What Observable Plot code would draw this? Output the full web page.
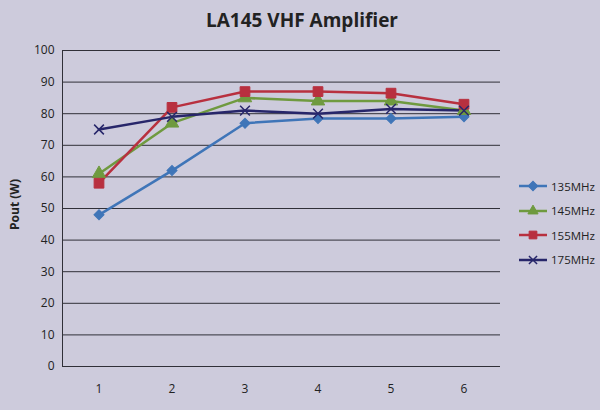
<!DOCTYPE html>
<html><head><meta charset="utf-8">
<script src="https://cdn.jsdelivr.net/npm/d3@7"></script>
<script src="https://cdn.jsdelivr.net/npm/@observablehq/plot@0.6"></script>
<style>
html,body{margin:0;padding:0;}
body{width:600px;height:410px;background:#cdcbdc;font-family:"Open Sans",sans-serif;color:#222;position:relative;overflow:hidden;}
#title{height:38px;line-height:40px;text-align:center;font-weight:bold;font-size:19px;padding-left:4px;}
#legend{position:absolute;left:518px;top:174px;font-size:11.5px;}
.row{height:24.5px;display:flex;align-items:center;}
.row svg{margin-right:3px;}
</style></head><body>
<div id="title">LA145 VHF Amplifier</div>
<div id="chart"></div>
<div id="legend"></div>
<script>
const steps = [1, 2, 3, 4, 5, 6];
const seriesNames = ["135MHz", "145MHz", "155MHz", "175MHz"];
const s135 = [48, 62, 77, 78.5, 78.5, 79];
const s145 = [61, 77, 85, 84, 84, 81];
const s155 = [58, 82, 87, 87, 86.5, 83];
const s175 = [75, 79, 81, 80, 81.5, 81];
const yTicks = [0, 10, 20, 30, 40, 50, 60, 70, 80, 90, 100];
const colors = ["#3f75b8", "#6f9a3f", "#b8303f", "#27266a"];
const symbols = ["square", "triangle", "square", "times"];
const rotations = [45, 0, 0, 0];
const sizes = [4, 5, 5.5, 4.5];

const allSeries = [s135, s145, s155, s175];
const data = [];
allSeries.forEach((vals, i) => vals.forEach((v, j) => data.push({series: seriesNames[i], x: steps[j], y: v})));

const plot = Plot.plot({
  width: 600,
  height: 372,
  marginLeft: 62,
  marginRight: 100,
  marginTop: 12,
  marginBottom: 44,
  style: {background: "transparent", fontFamily: "Open Sans, sans-serif", fontSize: "12px", color: "#222"},
  x: {domain: [0.5, 6.5], label: null},
  y: {domain: [0, 100], label: null},
  color: {domain: seriesNames, range: colors},
  marks: [
    Plot.gridY(yTicks, {stroke: "#303038", strokeOpacity: 1, strokeWidth: 1}),
    Plot.ruleX([0.5], {stroke: "#303038", strokeOpacity: 1}),
    Plot.axisX(steps, {tickFormat: d => String(d), tickSize: 0, tickPadding: 18, label: null}),
    Plot.axisY(yTicks, {tickSize: 0, tickPadding: 8, label: null}),
    Plot.line(data, {x: "x", y: "y", z: "series", stroke: "series", strokeWidth: 2.5}),
    ...seriesNames.map((name, i) => Plot.dot(data.filter(d => d.series === name), {
      x: "x", y: "y", symbol: symbols[i], rotate: rotations[i], fill: colors[i], stroke: colors[i], strokeWidth: i === 3 ? 1.5 : 1, r: sizes[i]
    }))
  ]
});
document.getElementById("chart").appendChild(plot);

// y-axis title
const yl = document.createElement("div");
yl.textContent = "Pout (W)";
yl.style.cssText = "position:absolute;left:-16px;top:196px;width:60px;text-align:center;transform:rotate(-90deg);font-weight:bold;font-size:12px;";
document.body.appendChild(yl);

// legend
const leg = d3.select("#legend");
seriesNames.forEach((name, i) => {
  const row = leg.append("div").attr("class", "row");
  const svg = row.append("svg").attr("width", 30).attr("height", 14);
  svg.append("line").attr("x1", 1).attr("x2", 29).attr("y1", 7).attr("y2", 7).attr("stroke", colors[i]).attr("stroke-width", 2.5);
  const sym = d3.symbol().type([d3.symbolSquare, d3.symbolTriangle, d3.symbolSquare, d3.symbolTimes][i]).size(i === 2 ? 60 : 45);
  svg.append("path").attr("d", sym()).attr("transform", "translate(15,7)" + (i === 0 ? " rotate(45)" : "")).attr("fill", colors[i]).attr("stroke", colors[i]).attr("stroke-width", i === 3 ? 1.5 : 1);
  row.append("span").text(name);
});
</script>
</body></html>
